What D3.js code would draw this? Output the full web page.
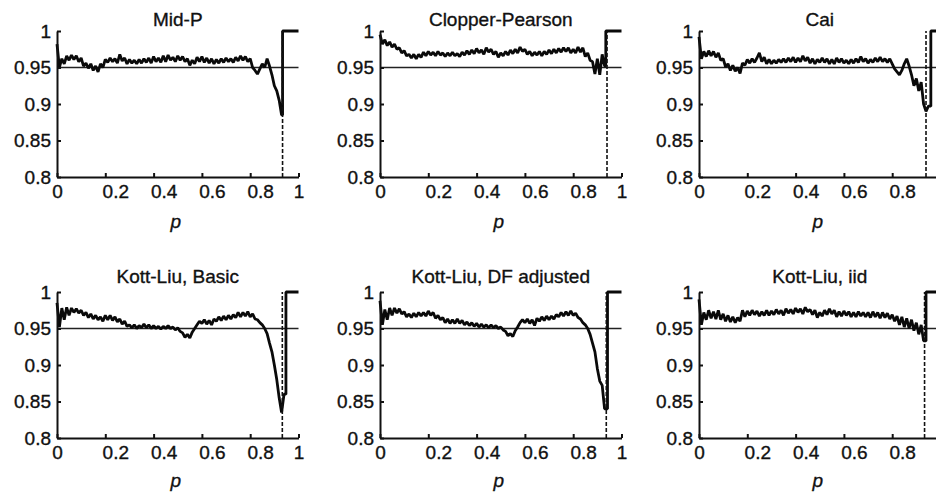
<!DOCTYPE html>
<html>
<head>
<meta charset="utf-8">
<script src="https://cdn.jsdelivr.net/npm/d3@7"></script>
<style>
body { margin: 0; background: #fff; }
svg { font-family: "Liberation Sans", Arial, Helvetica, sans-serif; }
svg text { stroke: #111; stroke-width: 0.35px; }
.axis path, .axis line { stroke: #111; stroke-width: 2; }
.axis text { font-size: 19px; fill: #111; font-family: "Liberation Sans", Arial, sans-serif; }
</style>
</head>
<body>
<script>
//Width and height
var w = 936;
var h = 495;

//Panel titles and ticks
var titles = ["Mid-P", "Clopper-Pearson", "Cai", "Kott-Liu, Basic", "Kott-Liu, DF adjusted", "Kott-Liu, iid"];
var xTicks = [0, 0.2, 0.4, 0.6, 0.8, 1];
var yTicks = [0.8, 0.85, 0.9, 0.95, 1];
var nominal = 0.95;

//Coverage values read at p = 0, 0.01, 0.02, ...
var pStep = 0.01;
var midP = [0.982, 0.950, 0.962, 0.955, 0.966, 0.960, 0.967, 0.961, 0.966, 0.958,
    0.963, 0.952, 0.956, 0.949, 0.955, 0.946, 0.952, 0.944, 0.955, 0.950,
    0.961, 0.957, 0.963, 0.958, 0.962, 0.956, 0.968, 0.959, 0.963, 0.955,
    0.961, 0.956, 0.960, 0.955, 0.961, 0.956, 0.962, 0.957, 0.963, 0.956,
    0.965, 0.958, 0.963, 0.957, 0.966, 0.958, 0.967, 0.960, 0.964, 0.958,
    0.966, 0.960, 0.965, 0.958, 0.962, 0.953, 0.960, 0.955, 0.964, 0.958,
    0.965, 0.957, 0.963, 0.956, 0.962, 0.955, 0.961, 0.956, 0.962, 0.957,
    0.963, 0.958, 0.962, 0.957, 0.964, 0.959, 0.966, 0.960, 0.965, 0.958,
    0.962, 0.950, 0.946, 0.941, 0.948, 0.955, 0.950, 0.962, 0.952, 0.940,
    0.925, 0.918, 0.905, 0.885];
var clopperPearson = [0.995, 0.982, 0.988, 0.980, 0.985, 0.978, 0.982, 0.975, 0.977, 0.970,
    0.973, 0.966, 0.968, 0.963, 0.968, 0.962, 0.968, 0.964, 0.971, 0.966,
    0.972, 0.967, 0.971, 0.966, 0.972, 0.967, 0.970, 0.965, 0.970, 0.966,
    0.971, 0.966, 0.969, 0.965, 0.971, 0.967, 0.973, 0.968, 0.974, 0.969,
    0.976, 0.970, 0.974, 0.968, 0.977, 0.971, 0.975, 0.968, 0.972, 0.964,
    0.970, 0.966, 0.972, 0.967, 0.974, 0.969, 0.975, 0.970, 0.978, 0.972,
    0.975, 0.968, 0.972, 0.966, 0.971, 0.967, 0.972, 0.966, 0.972, 0.968,
    0.974, 0.969, 0.975, 0.970, 0.976, 0.971, 0.977, 0.972, 0.977, 0.970,
    0.975, 0.970, 0.978, 0.971, 0.977, 0.965, 0.970, 0.960, 0.958, 0.941,
    0.962, 0.940, 0.968, 0.952];
var cai = [0.992, 0.962, 0.972, 0.965, 0.973, 0.966, 0.972, 0.964, 0.970, 0.960,
    0.962, 0.951, 0.955, 0.946, 0.953, 0.945, 0.950, 0.942, 0.956, 0.953,
    0.961, 0.956, 0.962, 0.957, 0.963, 0.970, 0.958, 0.964, 0.955, 0.961,
    0.955, 0.960, 0.956, 0.961, 0.957, 0.962, 0.957, 0.963, 0.958, 0.964,
    0.957, 0.963, 0.958, 0.966, 0.959, 0.964, 0.956, 0.962, 0.955, 0.961,
    0.957, 0.963, 0.957, 0.962, 0.955, 0.961, 0.955, 0.963, 0.957, 0.962,
    0.956, 0.960, 0.955, 0.961, 0.956, 0.962, 0.957, 0.965, 0.958, 0.962,
    0.956, 0.961, 0.957, 0.963, 0.958, 0.964, 0.958, 0.962, 0.957, 0.962,
    0.955, 0.948, 0.944, 0.940, 0.946, 0.955, 0.962, 0.952, 0.940, 0.925,
    0.935, 0.918, 0.930, 0.900, 0.890, 0.897];
var kottBasic = [0.985, 0.952, 0.978, 0.962, 0.979, 0.968, 0.978, 0.972, 0.977, 0.971,
    0.975, 0.968, 0.972, 0.965, 0.970, 0.963, 0.968, 0.962, 0.966, 0.960,
    0.968, 0.962, 0.968, 0.961, 0.966, 0.959, 0.963, 0.956, 0.960, 0.953,
    0.955, 0.951, 0.955, 0.950, 0.954, 0.951, 0.956, 0.951, 0.955, 0.950,
    0.954, 0.950, 0.953, 0.949, 0.953, 0.950, 0.954, 0.950, 0.952, 0.948,
    0.951, 0.946, 0.944, 0.938, 0.942, 0.937, 0.945, 0.950, 0.955, 0.960,
    0.957, 0.962, 0.956, 0.961, 0.955, 0.963, 0.960, 0.966, 0.961, 0.967,
    0.962, 0.968, 0.963, 0.969, 0.965, 0.972, 0.966, 0.972, 0.967, 0.973,
    0.966, 0.970, 0.963, 0.962, 0.958, 0.955, 0.950, 0.943, 0.930, 0.918,
    0.900, 0.880, 0.855, 0.835, 0.860];
var kottDf = [0.988, 0.955, 0.976, 0.962, 0.978, 0.968, 0.978, 0.971, 0.977, 0.970,
    0.973, 0.966, 0.970, 0.965, 0.971, 0.966, 0.972, 0.967, 0.972, 0.967,
    0.974, 0.968, 0.972, 0.964, 0.968, 0.962, 0.965, 0.958, 0.963, 0.957,
    0.962, 0.957, 0.963, 0.957, 0.961, 0.955, 0.959, 0.954, 0.958, 0.953,
    0.957, 0.952, 0.956, 0.952, 0.955, 0.951, 0.955, 0.951, 0.954, 0.950,
    0.952, 0.948, 0.946, 0.940, 0.943, 0.939, 0.947, 0.952, 0.958, 0.962,
    0.958, 0.963, 0.957, 0.962, 0.954, 0.964, 0.960, 0.966, 0.961, 0.967,
    0.962, 0.967, 0.963, 0.969, 0.966, 0.972, 0.967, 0.973, 0.968, 0.974,
    0.968, 0.971, 0.965, 0.963, 0.958, 0.955, 0.950, 0.942, 0.930, 0.918,
    0.895, 0.878, 0.872, 0.840];
var kottIid = [0.990, 0.955, 0.972, 0.962, 0.975, 0.964, 0.973, 0.963, 0.975, 0.962,
    0.970, 0.960, 0.968, 0.959, 0.966, 0.958, 0.965, 0.960, 0.975, 0.966,
    0.974, 0.968, 0.975, 0.969, 0.974, 0.967, 0.973, 0.968, 0.975, 0.968,
    0.974, 0.969, 0.976, 0.970, 0.975, 0.968, 0.977, 0.971, 0.976, 0.970,
    0.978, 0.972, 0.977, 0.970, 0.979, 0.973, 0.976, 0.969, 0.975, 0.965,
    0.972, 0.967, 0.975, 0.969, 0.977, 0.970, 0.975, 0.966, 0.973, 0.967,
    0.974, 0.968, 0.973, 0.966, 0.972, 0.966, 0.973, 0.967, 0.972, 0.966,
    0.972, 0.965, 0.973, 0.966, 0.972, 0.964, 0.972, 0.965, 0.971, 0.963,
    0.969, 0.960, 0.967, 0.955, 0.966, 0.952, 0.964, 0.950, 0.962, 0.947,
    0.958, 0.942, 0.955, 0.933];

var series = [midP, clopperPearson, cai, kottBasic, kottDf, kottIid];
// p where coverage jumps to 1, and p of the dashed marker
var jumpP = [0.934, 0.935, 0.960, 0.948, 0.942, 0.940];
var dashP = [0.934, 0.940, 0.940, 0.933, 0.937, 0.934];

//Panel layout
var colX = [57, 380, 699];
var rowY = [31, 292];
var pw = 241.5;
var ph = 146;
var titleGap = [5, 9];

//Create SVG element
var svg = d3.select("body")
    .append("svg")
    .attr("width", w)
    .attr("height", h);

var xScale = d3.scaleLinear().domain([0, 1]).range([0, pw]);
var yScale = d3.scaleLinear().domain([0.8, 1]).range([ph, 0]);
var fmt = d3.format("~g");

var line = d3.line()
    .x(function(d) { return xScale(d[0]); })
    .y(function(d) { return yScale(d[1]); });

series.forEach(function(vals, i) {
    var col = i % 3, row = Math.floor(i / 3);
    var g = svg.append("g")
        .attr("transform", "translate(" + colX[col] + "," + rowY[row] + ")");

    // title
    g.append("text")
        .attr("x", pw / 2)
        .attr("y", -titleGap[row])
        .attr("text-anchor", "middle")
        .style("font-size", "19px")
        .style("fill", "#111")
        .text(titles[i]);

    // nominal level
    g.append("line")
        .attr("x1", xScale(0)).attr("x2", xScale(1))
        .attr("y1", yScale(nominal)).attr("y2", yScale(nominal))
        .attr("stroke", "#222")
        .attr("stroke-width", 1.6);

    // coverage curve
    var pts = vals.map(function(v, k) { return [k * pStep, v]; });
    pts.push([jumpP[i], vals[vals.length - 1]]);
    pts.push([jumpP[i], 1]);
    pts.push([1, 1]);
    g.append("path")
        .datum(pts)
        .attr("fill", "none")
        .attr("stroke", "#0a0a0a")
        .attr("stroke-width", 2.8)
        .attr("stroke-linejoin", "bevel")
        .attr("d", line);

    // dashed marker
    g.append("line")
        .attr("x1", xScale(dashP[i])).attr("x2", xScale(dashP[i]))
        .attr("y1", yScale(0.8)).attr("y2", yScale(1))
        .attr("stroke", "#111")
        .attr("stroke-width", 1.6)
        .attr("stroke-dasharray", "4,2");

    // axes
    var xAxis = g.append("g").attr("class", "axis")
        .attr("transform", "translate(0," + ph + ")")
        .call(d3.axisBottom(xScale).tickValues(xTicks).tickSize(-4).tickSizeOuter(0)
            .tickPadding(8).tickFormat(fmt));
    xAxis.selectAll("text")
        .attr("dx", function(d) { return (d > 0 && d < 1) ? 10 : 0; });

    g.append("g").attr("class", "axis")
        .call(d3.axisLeft(yScale).tickValues(yTicks).tickSize(-4).tickSizeOuter(0)
            .tickPadding(6).tickFormat(fmt));

    // axis title
    g.append("text")
        .attr("x", pw / 2 - 2)
        .attr("y", ph + 51 - row * 2)
        .attr("text-anchor", "middle")
        .style("font-size", "19px")
        .style("font-style", "italic")
        .style("fill", "#111")
        .text("p");
});
</script>
</body>
</html>
